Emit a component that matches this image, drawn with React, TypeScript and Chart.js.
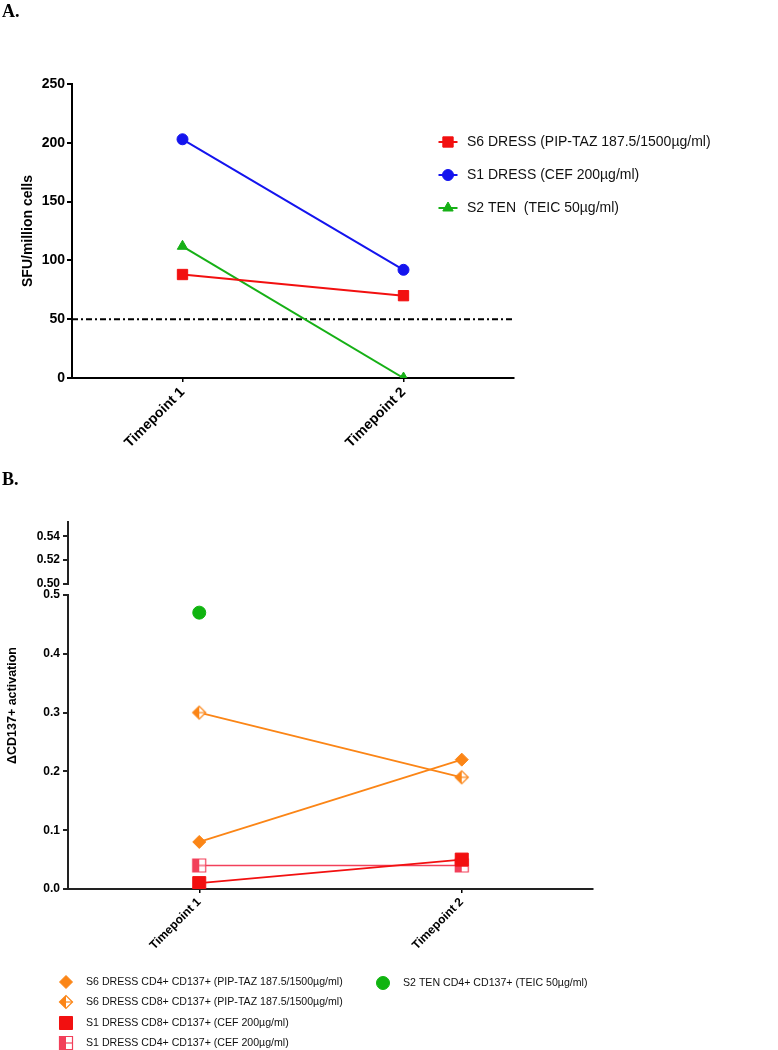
import React, { useEffect, useRef } from 'react';
import { Chart, registerables } from 'chart.js';
import { drawPoint } from 'chart.js/helpers';

Chart.register(...registerables);

const SANS = "'Liberation Sans', Arial, Helvetica, sans-serif";
const SERIF = "'Liberation Serif', 'Times New Roman', serif";
Chart.defaults.font.family = SANS;

// ---------- shared ----------
const TIMEPOINTS = ['Timepoint 1', 'Timepoint 2'];
const X_TICKS = [1, 2];

// ---------- panel A ----------
const A_S6_DRESS = [88, 70];
const A_S1_DRESS = [203, 92];
const A_S2_TEN = [112, 0];
const A_THRESHOLD = 50;
const A_Y_TICKS = [0, 50, 100, 150, 200, 250];
const A_LABELS = [
  'S6 DRESS (PIP-TAZ 187.5/1500µg/ml)',
  'S1 DRESS (CEF 200µg/ml)',
  'S2 TEN  (TEIC 50µg/ml)',
];
const A_Y_TITLE = 'SFU/million cells';

// ---------- panel B ----------
const B_S6_CD4 = [0.08, 0.22];
const B_S6_CD8 = [0.3, 0.19];
const B_S1_CD8 = [0.01, 0.05];
const B_S1_CD4 = [0.04, 0.04];
const B_S2_CD4 = [0.47, null];
const B_Y_TICKS_LOW = [0, 0.1, 0.2, 0.3, 0.4, 0.5];
const B_Y_TICKS_HIGH = [0.5, 0.52, 0.54];
const B_LABELS = [
  'S6 DRESS CD4+ CD137+ (PIP-TAZ 187.5/1500µg/ml)',
  'S6 DRESS CD8+ CD137+ (PIP-TAZ 187.5/1500µg/ml)',
  'S1 DRESS CD8+ CD137+ (CEF 200µg/ml)',
  'S1 DRESS CD4+ CD137+ (CEF 200µg/ml)',
  'S2 TEN CD4+ CD137+ (TEIC 50µg/ml)',
];
const B_Y_TITLE = 'ΔCD137+ activation';

const RED = '#f21010';
const BLUE = '#1414ee';
const GREEN_A = '#16b016';
const ORANGE = '#fb8516';
const PINK = '#f2405a';
const GREEN_B = '#10b410';

const pts = (vals: (number | null)[]) => vals.map((v, i) => ({ x: X_TICKS[i], y: v }));

function halfMarker(shape: 'diamond' | 'square', color: string, half: number): HTMLCanvasElement {
  const size = Math.ceil(half * 2 + 3);
  const c = document.createElement('canvas');
  c.width = size;
  c.height = size;
  const ctx = c.getContext('2d')!;
  const cx = size / 2;
  const cy = size / 2;
  const path = () => {
    ctx.beginPath();
    if (shape === 'diamond') {
      ctx.moveTo(cx - half, cy);
      ctx.lineTo(cx, cy - half);
      ctx.lineTo(cx + half, cy);
      ctx.lineTo(cx, cy + half);
      ctx.closePath();
    } else {
      ctx.rect(cx - half, cy - half, half * 2, half * 2);
    }
  };
  path();
  ctx.fillStyle = '#fff';
  ctx.fill();
  ctx.save();
  ctx.beginPath();
  ctx.rect(0, 0, cx, size);
  ctx.clip();
  path();
  ctx.fillStyle = color;
  ctx.fill();
  ctx.restore();
  path();
  ctx.strokeStyle = color;
  ctx.lineWidth = 1.2;
  ctx.stroke();
  ctx.beginPath();
  ctx.moveTo(cx, cy);
  ctx.lineTo(cx + half, cy);
  ctx.stroke();
  return c;
}

type LegendPos = { ds: number; x: number; y: number };

function legendPlugin(id: string, items: LegendPos[], font: string, lineHalf: number, textGap: number) {
  return {
    id,
    afterDraw(chart: any) {
      const ctx: CanvasRenderingContext2D = chart.ctx;
      ctx.save();
      for (const it of items) {
        const ds: any = chart.data.datasets[it.ds];
        if (lineHalf > 0) {
          ctx.strokeStyle = ds.borderColor;
          ctx.lineWidth = ds.borderWidth;
          ctx.setLineDash([]);
          ctx.beginPath();
          ctx.moveTo(it.x - lineHalf, it.y);
          ctx.lineTo(it.x + lineHalf, it.y);
          ctx.stroke();
        }
        ctx.fillStyle = ds.pointBackgroundColor;
        ctx.strokeStyle = ds.pointBorderColor;
        ctx.lineWidth = ds.pointBorderWidth;
        drawPoint(ctx, { pointStyle: ds.pointStyle, radius: ds.pointRadius, rotation: 0, borderWidth: ds.pointBorderWidth } as any, it.x, it.y);
        ctx.fillStyle = '#111';
        ctx.font = font;
        ctx.textAlign = 'left';
        ctx.textBaseline = 'middle';
        ctx.fillText(ds.label, it.x + textGap, it.y);
      }
      ctx.restore();
    },
  };
}

function yTitlePlugin(id: string, text: string, x: number, font: string) {
  return {
    id,
    afterDraw(chart: any) {
      const { ctx, chartArea } = chart;
      ctx.save();
      ctx.translate(x, (chartArea.top + chartArea.bottom) / 2);
      ctx.rotate(-Math.PI / 2);
      ctx.font = font;
      ctx.fillStyle = '#000';
      ctx.textAlign = 'center';
      ctx.textBaseline = 'middle';
      ctx.fillText(text, 0, 0);
      ctx.restore();
    },
  };
}

const setTicks = (values: number[]) => (scale: any) => {
  scale.ticks = values.map((value) => ({ value }));
};

export default function App() {
  const refA = useRef<HTMLCanvasElement>(null);
  const refB = useRef<HTMLCanvasElement>(null);

  useEffect(() => {
    const bold14 = { family: SANS, size: 14, weight: 'bold' as const };
    const bold12 = { family: SANS, size: 12, weight: 'bold' as const };

    const chartA = new Chart(refA.current!, {
      type: 'line',
      data: {
        datasets: [
          {
            label: A_LABELS[0], data: pts(A_S6_DRESS), borderColor: RED, backgroundColor: RED, borderWidth: 2,
            pointStyle: 'rect', pointRadius: 7.3, pointBackgroundColor: RED, pointBorderColor: RED, pointBorderWidth: 1,
          },
          {
            label: A_LABELS[1], data: pts(A_S1_DRESS), borderColor: BLUE, backgroundColor: BLUE, borderWidth: 2,
            pointStyle: 'circle', pointRadius: 5.5, pointBackgroundColor: BLUE, pointBorderColor: BLUE, pointBorderWidth: 1,
          },
          {
            label: A_LABELS[2], data: pts(A_S2_TEN), borderColor: GREEN_A, backgroundColor: GREEN_A, borderWidth: 2,
            pointStyle: 'triangle', pointRadius: 6, pointBackgroundColor: GREEN_A, pointBorderColor: GREEN_A, pointBorderWidth: 1,
          },
          {
            label: 'threshold', data: [{ x: 0.5, y: A_THRESHOLD }, { x: 2.5, y: A_THRESHOLD }],
            borderColor: '#000', borderWidth: 2, borderDash: [6, 3, 2, 3], pointRadius: 0,
          },
        ] as any,
      },
      options: {
        animation: false,
        responsive: true,
        maintainAspectRatio: false,
        layout: { padding: { top: 84, right: 264, left: 0, bottom: 0 } },
        plugins: { legend: { display: false }, tooltip: { enabled: false } },
        scales: {
          x: {
            type: 'linear', min: 0.5, max: 2.5,
            afterBuildTicks: setTicks(X_TICKS),
            afterFit: (s: any) => { s.height = 92; },
            ticks: { callback: (v: any) => TIMEPOINTS[Number(v) - 1], font: bold14, color: '#000', minRotation: 45, maxRotation: 45, padding: 2 },
            grid: { drawOnChartArea: false, drawTicks: true, tickLength: 4, color: '#000', lineWidth: 1.5 },
            border: { display: true, color: '#000', width: 2 },
          },
          y: {
            type: 'linear', min: 0, max: 250,
            afterBuildTicks: setTicks(A_Y_TICKS),
            afterFit: (s: any) => { s.width = 72; },
            ticks: { font: bold14, color: '#000', padding: 2 },
            grid: { drawOnChartArea: false, drawTicks: true, tickLength: 5, color: '#000', lineWidth: 2 },
            border: { display: true, color: '#000', width: 2 },
            title: { display: true, text: A_Y_TITLE, font: bold14, color: '#000', padding: { top: 20, bottom: 0 } },
          },
        },
      } as any,
      plugins: [
        legendPlugin('legendA', [
          { ds: 0, x: 448, y: 142 },
          { ds: 1, x: 448, y: 175 },
          { ds: 2, x: 448, y: 208 },
        ], `14px ${SANS}`, 9.5, 19),
      ],
    });

    const halfDiamond = halfMarker('diamond', ORANGE, 6.5);
    const halfSquare = halfMarker('square', PINK, 6.5);

    const chartB = new Chart(refB.current!, {
      type: 'line',
      data: {
        datasets: [
          {
            label: B_LABELS[0], data: pts(B_S6_CD4), borderColor: ORANGE, borderWidth: 1.8, order: 2,
            pointStyle: 'rectRot', pointRadius: 6.5, pointBackgroundColor: ORANGE, pointBorderColor: ORANGE, pointBorderWidth: 1,
          },
          {
            label: B_LABELS[1], data: pts(B_S6_CD8), borderColor: ORANGE, borderWidth: 1.8, order: 2,
            pointStyle: halfDiamond, pointRadius: 6.5, pointBackgroundColor: ORANGE, pointBorderColor: ORANGE, pointBorderWidth: 1,
          },
          {
            label: B_LABELS[2], data: pts(B_S1_CD8), borderColor: RED, borderWidth: 1.8, order: 0,
            pointStyle: 'rect', pointRadius: 9.2, pointBackgroundColor: RED, pointBorderColor: RED, pointBorderWidth: 1,
          },
          {
            label: B_LABELS[3], data: pts(B_S1_CD4), borderColor: PINK, borderWidth: 1.4, order: 1,
            pointStyle: halfSquare, pointRadius: 6.5, pointBackgroundColor: PINK, pointBorderColor: PINK, pointBorderWidth: 1,
          },
          {
            label: B_LABELS[4], data: pts(B_S2_CD4), borderColor: GREEN_B, borderWidth: 1.8, order: 2,
            pointStyle: 'circle', pointRadius: 6.5, pointBackgroundColor: GREEN_B, pointBorderColor: GREEN_B, pointBorderWidth: 1,
          },
        ] as any,
      },
      options: {
        animation: false,
        responsive: true,
        maintainAspectRatio: false,
        layout: { padding: { top: 52, right: 185, left: 0, bottom: 0 } },
        plugins: { legend: { display: false }, tooltip: { enabled: false } },
        scales: {
          x: {
            type: 'linear', min: 0.5, max: 2.5,
            afterBuildTicks: setTicks(X_TICKS),
            afterFit: (s: any) => { s.height = 161; },
            ticks: { callback: (v: any) => TIMEPOINTS[Number(v) - 1], font: bold12, color: '#000', minRotation: 45, maxRotation: 45, padding: 2 },
            grid: { drawOnChartArea: false, drawTicks: true, tickLength: 4, color: '#000', lineWidth: 1.5 },
            border: { display: true, color: '#222', width: 2 },
          },
          y: {
            type: 'linear', position: 'left', stack: 'yb', stackWeight: 294, weight: 1, min: 0, max: 0.5,
            afterBuildTicks: setTicks(B_Y_TICKS_LOW),
            afterFit: (s: any) => { s.width = 68; },
            ticks: { callback: (v: any) => Number(v).toFixed(1), font: bold12, color: '#000', padding: 3 },
            grid: { drawOnChartArea: false, drawTicks: true, tickLength: 5, color: '#222', lineWidth: 2 },
            border: { display: true, color: '#222', width: 2 },
          },
          yGap: {
            type: 'linear', position: 'left', stack: 'yb', stackWeight: 11, weight: 2, min: 0, max: 1,
            afterFit: (s: any) => { s.width = 68; },
            ticks: { display: false },
            grid: { display: false },
            border: { display: false },
          },
          yTop: {
            type: 'linear', position: 'left', stack: 'yb', stackWeight: 62, weight: 3, min: 0.5, max: 0.552,
            afterBuildTicks: setTicks(B_Y_TICKS_HIGH),
            afterFit: (s: any) => { s.width = 68; },
            ticks: { callback: (v: any) => Number(v).toFixed(2), font: bold12, color: '#000', padding: 3 },
            grid: { drawOnChartArea: false, drawTicks: true, tickLength: 5, color: '#222', lineWidth: 2 },
            border: { display: true, color: '#222', width: 2 },
          },
        },
      } as any,
      plugins: [
        yTitlePlugin('yTitleB', B_Y_TITLE, 13, `bold 12.5px ${SANS}`),
        legendPlugin('legendB', [
          { ds: 0, x: 66, y: 512 },
          { ds: 1, x: 66, y: 532 },
          { ds: 2, x: 66, y: 553 },
          { ds: 3, x: 66, y: 573 },
          { ds: 4, x: 383, y: 513 },
        ], `10.6px ${SANS}`, 0, 20),
      ],
    });

    return () => {
      chartA.destroy();
      chartB.destroy();
    };
  }, []);

  const heading: React.CSSProperties = {
    position: 'absolute', left: 2, font: `bold 18px ${SERIF}`, lineHeight: '18px', color: '#000',
  };

  return (
    <div style={{ position: 'absolute', left: 0, top: 0, width: 778, height: 1050, background: '#fff', overflow: 'hidden' }}>
      <div style={{ position: 'absolute', left: 0, top: 0, width: 778, height: 470 }}>
        <canvas ref={refA} />
      </div>
      <div style={{ position: 'absolute', left: 0, top: 470, width: 778, height: 580 }}>
        <canvas ref={refB} />
      </div>
      <div style={{ ...heading, top: 2 }}>A.</div>
      <div style={{ ...heading, top: 470 }}>B.</div>
    </div>
  );
}
